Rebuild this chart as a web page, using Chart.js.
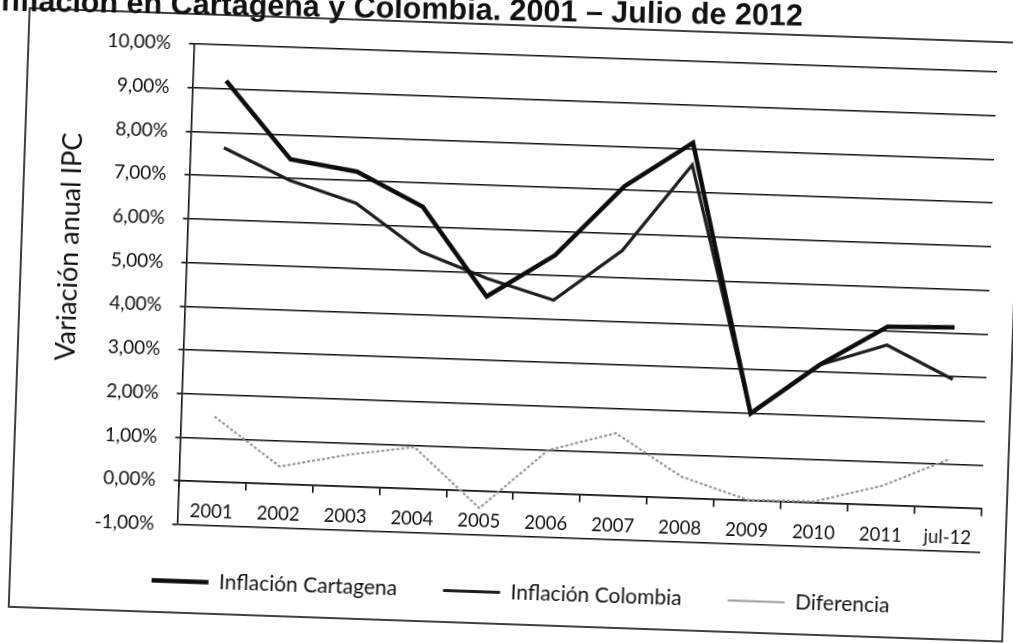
<!DOCTYPE html>
<html><head><meta charset="utf-8">
<script src="https://cdn.jsdelivr.net/npm/chart.js@4.4.0/dist/chart.umd.min.js"></script>
<style>
html,body{margin:0;padding:0;background:#fff;overflow:hidden;width:1013px;height:643px;}
#wrap{position:absolute;left:-20px;top:-20px;width:1060px;height:690px;transform:rotate(2deg);transform-origin:526.5px 341.5px;}
canvas{display:block;}
</style></head><body>
<div id="wrap"><canvas id="c" width="1060" height="690"></canvas></div>
<script>
const categories = ['2001','2002','2003','2004','2005','2006','2007','2008','2009','2010','2011','jul-12'];
const inflacionCartagena = [9.18, 7.44, 7.21, 6.46, 4.46, 5.46, 7.09, 8.14, 2.00, 3.16, 4.09, 4.13];
const inflacionColombia  = [7.65, 6.96, 6.49, 5.43, 4.87, 4.43, 5.62, 7.63, 2.00, 3.16, 3.67, 2.94];
const diferencia         = [1.50, 0.41, 0.73, 0.96, -0.38, 1.00, 1.44, 0.50, 0.02, 0.04, 0.45, 1.12];
const seriesNames = ['Inflación Cartagena', 'Inflación Colombia', 'Diferencia'];
const yMin = -1, yMax = 10, yStep = 1;
const chartTitle = 'Inflación en Cartagena y Colombia. 2001 – Julio de 2012';
const yAxisTitle = 'Variación anual IPC';

const INK = '#111';
const decor = {
  id: 'decor',
  beforeDraw(chart) {
    const ctx = chart.ctx;
    ctx.save();
    ctx.fillStyle = '#fff';
    ctx.fillRect(0, 0, chart.width, chart.height);
    ctx.strokeStyle = INK;
    ctx.lineWidth = 1.6;
    ctx.strokeRect(39, 45, 994, 599);
    ctx.restore();
  },
  afterDraw(chart) {
    const ctx = chart.ctx;
    ctx.save();
    ctx.translate(87.6, 282);
    ctx.rotate(-Math.PI / 2);
    ctx.font = '27px Lato, "Open Sans", sans-serif';
    ctx.fillStyle = INK;
    ctx.textAlign = 'center';
    ctx.textBaseline = 'middle';
    ctx.fillText(yAxisTitle, 0, 0);
    ctx.restore();
    ctx.save();
    ctx.translate(2, 48.5);
    ctx.rotate(-0.016);
    ctx.font = 'bold 30.5px "Liberation Sans", Arial, sans-serif';
    ctx.fillStyle = INK;
    ctx.textAlign = 'left';
    ctx.textBaseline = 'alphabetic';
    ctx.fillText(chartTitle, 0, 0);
    ctx.restore();
  }
};

function draw() {
  new Chart(document.getElementById('c'), {
    type: 'line',
    data: {
      labels: categories,
      datasets: [
        { label: seriesNames[0], data: inflacionCartagena, borderColor: '#0d0d0d', backgroundColor: '#0d0d0d', borderWidth: 4.5, pointRadius: 0, pointStyle: 'line', tension: 0 },
        { label: seriesNames[1], data: inflacionColombia, borderColor: '#1e1e1e', backgroundColor: '#1e1e1e', borderWidth: 3.2, pointRadius: 0, pointStyle: 'line', tension: 0 },
        { label: seriesNames[2], data: diferencia, borderColor: '#9a9a9a', backgroundColor: '#9a9a9a', borderWidth: 2.2, borderDash: [3, 2], pointRadius: 0, pointStyle: 'line', tension: 0 }
      ]
    },
    options: {
      responsive: false,
      animation: false,
      devicePixelRatio: 1,
      layout: { padding: { left: 85, right: 45, top: 75, bottom: 57 } },
      plugins: {
        legend: {
          position: 'bottom',
          labels: { usePointStyle: true, pointStyleWidth: 57, padding: 46, color: INK, font: { family: 'Lato', size: 21 } }
        },
        title: { display: false },
        tooltip: { enabled: false }
      },
      scales: {
        x: {
          type: 'category',
          position: { y: 0 },
          offset: true,
          grid: { drawOnChartArea: false, drawTicks: true, tickLength: 7, offset: true, color: INK, lineWidth: 1.6 },
          border: { display: true, color: INK, width: 1.6 },
          ticks: { padding: 12, color: INK, font: { family: 'Lato', size: 18.5 }, maxRotation: 0, autoSkip: false }
        },
        y: {
          min: yMin, max: yMax,
          position: 'left',
          afterFit(s) { s.width = 119.5; },
          grid: { color: INK, lineWidth: 1.6, tickLength: 5 },
          border: { color: INK, width: 1.6 },
          ticks: { stepSize: yStep, padding: 18, color: INK, font: { family: 'Lato', size: 19 },
                   callback: v => v.toFixed(2).replace('.', ',') + '%' }
        },
        ySpacer: {
          type: 'linear',
          position: 'right',
          display: true,
          afterFit(s) { s.width = 7; },
          grid: { display: false, drawTicks: false },
          border: { display: false },
          ticks: { display: false }
        }
      }
    },
    plugins: [decor]
  });
}
if (document.fonts && document.fonts.load) {
  Promise.all([document.fonts.load('18px Lato'), document.fonts.load('bold 29px "Liberation Sans"')]).then(draw, draw);
} else { draw(); }
</script>
</body></html>
